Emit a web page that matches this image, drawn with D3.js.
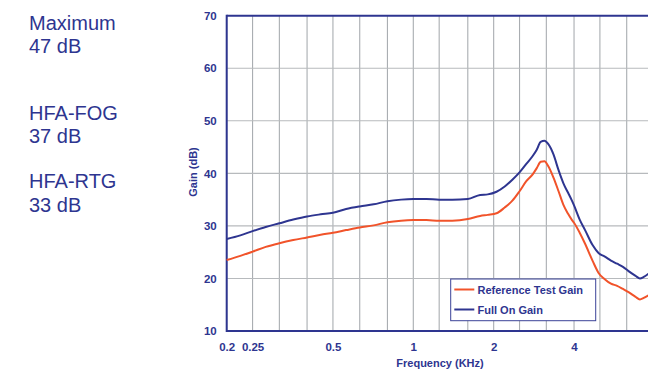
<!DOCTYPE html>
<html>
<head>
<meta charset="utf-8">
<script src="https://cdn.jsdelivr.net/npm/d3@7"></script>
<style>
  html, body { margin: 0; padding: 0; background: #ffffff; }
  svg { display: block; }
</style>
</head>
<body>
<svg id="chart" width="648" height="369"></svg>
<script>
// Frequency response of the hearing aid (kHz vs dB gain)
const freqs = [0.2, 0.225, 0.25, 0.28, 0.315, 0.355, 0.4, 0.45, 0.5, 0.56, 0.63, 0.71, 0.8, 0.9,
  1.0, 1.12, 1.25, 1.4, 1.6, 1.78, 1.9, 2.05, 2.2, 2.35, 2.5, 2.65, 2.8, 2.9, 3.0, 3.1, 3.2,
  3.35, 3.5, 3.65, 3.8, 3.92, 4.0, 4.2, 4.4, 4.7, 4.95, 5.2, 5.5, 5.8, 6.1, 6.4, 6.8, 7.06, 7.3, 7.6];

const fullOnGain = [27.5, 28.2, 29.0, 29.8, 30.5, 31.2, 31.8, 32.2, 32.5, 33.2, 33.7, 34.1, 34.7, 35.0,
  35.1, 35.1, 35.0, 35.0, 35.1, 35.9, 36.0, 36.5, 37.5, 38.8, 40.2, 41.8, 43.3, 44.5, 46.0, 46.2, 45.6,
  43.6, 40.6, 38.1, 36.3, 34.9, 33.9, 31.2, 29.2, 26.3, 24.8, 24.2, 23.4, 22.8, 22.2, 21.4, 20.5, 20.0, 20.3, 20.9];

const referenceTestGain = [23.5, 24.3, 25.1, 26.0, 26.7, 27.3, 27.8, 28.3, 28.7, 29.2, 29.7, 30.1, 30.7, 31.0,
  31.1, 31.1, 31.0, 31.0, 31.3, 31.9, 32.1, 32.4, 33.5, 34.8, 36.6, 38.5, 39.8, 41.0, 42.2, 42.3, 41.4,
  39.2, 36.6, 34.0, 32.3, 31.2, 30.6, 28.7, 26.6, 23.3, 21.0, 19.9, 19.0, 18.6, 18.0, 17.4, 16.5, 16.0, 16.3, 16.8];

// One-third-octave grid and labelled ticks
const gridFreqs = [0.2, 0.25, 0.315, 0.4, 0.5, 0.63, 0.8, 1, 1.25, 1.6, 2, 2.5, 3.15, 4, 5, 6.3, 8];
const xTickLabels = [0.2, 0.25, 0.5, 1, 2, 4];
const yTicks = [10, 20, 30, 40, 50, 60, 70];

const seriesNames = ["Reference Test Gain", "Full On Gain"];
const sideNotes = [["Maximum", "47 dB"], ["HFA-FOG", "37 dB"], ["HFA-RTG", "33 dB"]];

const navy = "#2e3590";
const orange = "#f1532a";
const gridColor = "#a9adb1";
const font = "Arial, 'Liberation Sans', sans-serif";

const svg = d3.select("#chart");

const x = d3.scaleLog().domain([0.2, 8]).range([226.7, 654.4]);
const y = d3.scaleLinear().domain([10, 70]).range([331, 15.7]);

// Side annotations
const noteTops = [30, 120, 188.3];
sideNotes.forEach((lines, i) => {
  const t = svg.append("text")
    .attr("x", 29)
    .attr("y", noteTops[i])
    .attr("fill", navy)
    .style("font-family", font)
    .style("font-size", "20px");
  lines.forEach((ln, j) => {
    t.append("tspan").attr("x", 29).attr("dy", j === 0 ? 0 : 23.3).text(ln);
  });
});

// Grid
const grid = svg.append("g");
grid.selectAll("line.v").data(gridFreqs).join("line")
  .attr("class", "v")
  .attr("x1", d => x(d)).attr("x2", d => x(d))
  .attr("y1", y(70)).attr("y2", y(10))
  .attr("stroke", gridColor).attr("stroke-width", 1.1);
grid.selectAll("line.h").data(yTicks.slice(1, -1)).join("line")
  .attr("class", "h")
  .attr("x1", x(0.2)).attr("x2", 660)
  .attr("y1", d => y(d)).attr("y2", d => y(d))
  .attr("stroke", "#b7babd").attr("stroke-width", 1.1);

// Frame lines (left, top, bottom)
svg.append("line").attr("x1", x(0.2)).attr("x2", 660).attr("y1", y(70)).attr("y2", y(70))
  .attr("stroke", navy).attr("stroke-width", 2);
svg.append("line").attr("x1", x(0.2)).attr("x2", 660).attr("y1", y(10)).attr("y2", y(10))
  .attr("stroke", navy).attr("stroke-width", 2);
svg.append("line").attr("x1", x(0.2)).attr("x2", x(0.2)).attr("y1", y(70) - 1).attr("y2", y(10) + 1)
  .attr("stroke", navy).attr("stroke-width", 2);

// Axes (labels only; frame drawn above)
const yAxis = svg.append("g")
  .attr("transform", `translate(${x(0.2)},0)`)
  .call(d3.axisLeft(y).tickValues(yTicks).tickSize(0).tickPadding(10));
const xAxis = svg.append("g")
  .attr("transform", `translate(0,${y(10)})`)
  .call(d3.axisBottom(x).tickValues(xTickLabels).tickFormat(d => String(d)).tickSize(0).tickPadding(12));
[yAxis, xAxis].forEach(a => {
  a.select(".domain").remove();
  a.selectAll("text")
    .attr("fill", navy)
    .style("font-family", font)
    .style("font-size", "11.5px")
    .style("font-weight", "bold");
});

// Axis titles
svg.append("text")
  .attr("x", 440).attr("y", 367)
  .attr("text-anchor", "middle")
  .attr("fill", navy)
  .style("font-family", font).style("font-size", "11px").style("font-weight", "bold")
  .text("Frequency (KHz)");
svg.append("text")
  .attr("transform", "translate(197,172) rotate(-90)")
  .attr("text-anchor", "middle")
  .attr("fill", navy)
  .style("font-family", font).style("font-size", "11px").style("font-weight", "bold")
  .text("Gain (dB)");

// Curves
const line = d3.line().x(d => x(d[0])).y(d => y(d[1])).curve(d3.curveMonotoneX);
const rows = (vals) => freqs.map((f, i) => [f, vals[i]]);

svg.append("path").datum(rows(referenceTestGain))
  .attr("d", line).attr("fill", "none")
  .attr("stroke", orange).attr("stroke-width", 2).attr("stroke-linejoin", "round");
svg.append("path").datum(rows(fullOnGain))
  .attr("d", line).attr("fill", "none")
  .attr("stroke", navy).attr("stroke-width", 2).attr("stroke-linejoin", "round");

// Legend
const lg = svg.append("g");
lg.append("rect")
  .attr("x", 450.7).attr("y", 279).attr("width", 145).attr("height", 41.7)
  .attr("fill", "#ffffff").attr("stroke", "#3b4398").attr("stroke-width", 1);
const legendColors = [orange, navy];
seriesNames.forEach((name, i) => {
  const ly = 289.5 + i * 20;
  lg.append("line").attr("x1", 454.3).attr("x2", 474.3).attr("y1", ly).attr("y2", ly)
    .attr("stroke", legendColors[i]).attr("stroke-width", 2);
  lg.append("text").attr("x", 477.5).attr("y", ly + 4)
    .attr("fill", navy)
    .style("font-family", font).style("font-size", "11px").style("font-weight", "bold")
    .text(name);
});
</script>
</body>
</html>
